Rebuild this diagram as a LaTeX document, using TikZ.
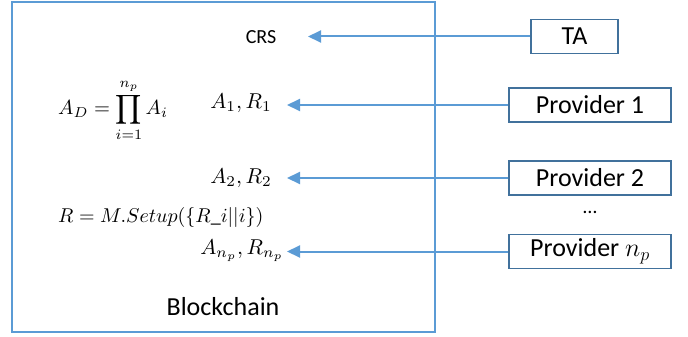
\RequirePackage{fix-cm}
\documentclass[tikz,border=0pt]{standalone}
\usepackage{graphicx}
\usepackage{fontspec}
\setmainfont{Carlito}
\usetikzlibrary{arrows.meta}
\definecolor{lblue}{RGB}{91,155,213}
\definecolor{dblue}{RGB}{65,113,156}
\newcommand{\mybigmath}[2][2.15]{\scalebox{#1}{#2}}
\begin{document}
\begin{tikzpicture}[x=1pt,y=-1pt,
  entity/.style={draw=dblue,line width=1.8pt,minimum height=34pt,inner sep=0pt,font=\fontsize{26}{30}\selectfont},
  feed/.style={draw=lblue,line width=2pt,-{Triangle[length=13pt,width=12pt]}},
  mathlbl/.style={inner sep=0pt}]
\useasboundingbox (0,0) rectangle (688,337);
\node[draw=lblue,line width=1.8pt,minimum width=423pt,minimum height=330pt,inner sep=0pt] (bc) at (223.5,167) {};
\node[font=\fontsize{26}{30}\selectfont] (bclabel) at (223,307) {Blockchain};
\node[font=\fontsize{20}{24}\selectfont,inner sep=0pt] (crs) at (261,37) {CRS};
\node[mathlbl] (a1) at (241,103) {\mybigmath{$A_1, R_1$}};
\node[mathlbl] (a2) at (241,178) {\mybigmath{$A_2, R_2$}};
\node[mathlbl] (anp) at (242,251) {\mybigmath{$A_{n_p}, R_{n_p}$}};
\node[mathlbl] (ad) at (113,110) {\mybigmath[2.05]{$\displaystyle A_D = \prod_{i=1}^{n_p} A_i$}};
\node[mathlbl,anchor=west] (setup) at (58,217) {\mybigmath[2.0]{$R = M.Setup(\{R\_i||i\})$}};
\coordinate (tcrs) at (308,37);
\coordinate (t1) at (287,103);
\coordinate (t2) at (287,178);
\coordinate (tnp) at (287,252);
\node[entity,minimum width=87pt] (ta) at (574.5,36.5) {TA};
\node[entity,minimum width=162pt] (p1) at (590,105) {Provider 1};
\node[entity,minimum width=162pt] (p2) at (590,178) {Provider 2};
\node[entity,minimum width=162pt] (pnp) at (590,251.5) {Provider $n_p$};
\node[font=\fontsize{20}{24}\selectfont,inner sep=0pt] (dots) at (590,212) {…};
\draw[feed] (ta.west) -- (ta.west -| tcrs);
\draw[feed] (p1.west) -- (p1.west -| t1);
\draw[feed] (p2.west) -- (p2.west -| t2);
\draw[feed] (pnp.west) -- (pnp.west -| tnp);
\end{tikzpicture}
\end{document}
